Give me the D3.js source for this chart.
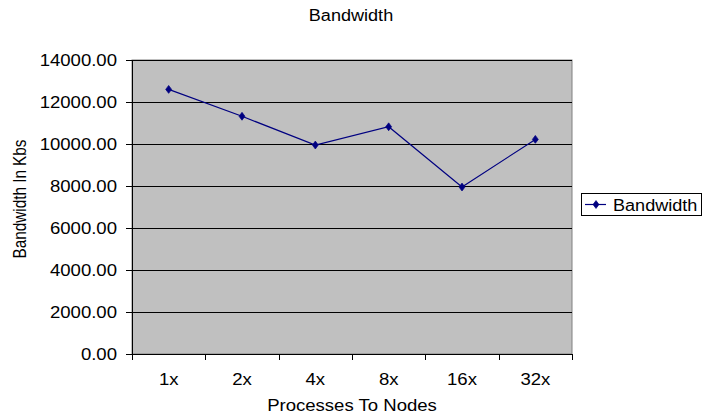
<!DOCTYPE html>
<html>
<head>
<meta charset="utf-8">
<script src="https://cdn.jsdelivr.net/npm/d3@7"></script>
<style>
  html, body { margin: 0; padding: 0; background: #fff; }
  svg { display: block; font-family: "Liberation Sans", Arial, sans-serif; }
</style>
</head>
<body>
<svg width="703" height="415"></svg>
<script>
const categories = ["1x", "2x", "4x", "8x", "16x", "32x"];
const bandwidth = [12600, 11320, 9950, 10820, 7950, 10220];
const yTicks = [0, 2000, 4000, 6000, 8000, 10000, 12000, 14000];

const svg = d3.select("svg");
const sx = 1.16; // the original chart is stretched horizontally
const fontSize = 16;

const plot = { left: 132, right: 572, top: 60, bottom: 354 };

const x = d3.scaleBand().domain(categories).range([plot.left, plot.right]).padding(0);
const y = d3.scaleLinear().domain([0, 14000]).range([plot.bottom, plot.top]);

// plot background
svg.append("rect")
    .attr("x", plot.left).attr("y", plot.top)
    .attr("width", plot.right - plot.left).attr("height", plot.bottom - plot.top)
    .attr("fill", "#c0c0c0")
    .attr("stroke", "#808080").attr("stroke-width", 1);

// gridlines
svg.append("g").selectAll("line")
    .data(yTicks.filter(d => d > 0))
    .enter().append("line")
    .attr("x1", plot.left).attr("x2", plot.right)
    .attr("y1", d => Math.round(y(d)) + 0.5).attr("y2", d => Math.round(y(d)) + 0.5)
    .attr("stroke", "#000").attr("stroke-width", 1);

// y axis
const yAxis = svg.append("g")
    .attr("transform", `translate(${plot.left},0)`)
    .call(d3.axisLeft(y).tickValues(yTicks).tickFormat(d3.format(".2f")).tickSize(6).tickSizeOuter(0));
yAxis.select(".domain").attr("stroke", "#000");
yAxis.selectAll(".tick line").attr("stroke", "#000");
yAxis.selectAll("text")
    .attr("x", -15 / sx)
    .attr("dy", "0.36em")
    .attr("transform", `scale(${sx},1)`)
    .style("font-size", fontSize + "px")
    .style("font-family", "'Liberation Sans', Arial, sans-serif")
    .attr("fill", "#000");

// x axis: ticks at category boundaries
const xAxis = svg.append("g")
    .attr("transform", `translate(0,${plot.bottom})`);
xAxis.append("line")
    .attr("x1", plot.left).attr("x2", plot.right)
    .attr("y1", 0.5).attr("y2", 0.5)
    .attr("stroke", "#000");
const bounds = categories.map(c => x(c)).concat([plot.right]);
xAxis.selectAll(".xtick")
    .data(bounds).enter().append("line")
    .attr("x1", d => Math.round(d) + 0.5).attr("x2", d => Math.round(d) + 0.5)
    .attr("y1", 0).attr("y2", 6)
    .attr("stroke", "#000");
xAxis.selectAll(".xlabel")
    .data(categories).enter().append("text")
    .attr("transform", d => `translate(${x(d) + x.bandwidth() / 2},31) scale(${sx},1)`)
    .attr("text-anchor", "middle")
    .style("font-size", fontSize + "px")
    .text(d => d);

// line + markers
const line = d3.line()
    .x((d, i) => x(categories[i]) + x.bandwidth() / 2)
    .y(d => y(d));

svg.append("path")
    .datum(bandwidth)
    .attr("fill", "none")
    .attr("stroke", "#000080")
    .attr("stroke-width", 1.2)
    .attr("d", line);

const diamond = d3.symbol().type(d3.symbolDiamond).size(18);
svg.append("g").selectAll("path")
    .data(bandwidth).enter().append("path")
    .attr("transform", (d, i) => `translate(${x(categories[i]) + x.bandwidth() / 2},${y(d)}) scale(1.3,1)`)
    .attr("d", diamond)
    .attr("fill", "#000080")
    .attr("stroke", "#000080").attr("stroke-width", 0.6);

// title
svg.append("text")
    .attr("transform", `translate(351,20.5) scale(1.13,1)`)
    .attr("text-anchor", "middle")
    .style("font-size", fontSize + "px")
    .text("Bandwidth");

// axis titles
svg.append("text")
    .attr("transform", `translate(352,411) scale(${sx},1)`)
    .attr("text-anchor", "middle")
    .style("font-size", fontSize + "px")
    .text("Processes To Nodes");

svg.append("text")
    .attr("transform", `translate(26,199) scale(1.23,1) rotate(-90)`)
    .attr("text-anchor", "middle")
    .style("font-size", "15.3px")
    .text("Bandwidth In Kbs");

// legend
const legend = svg.append("g");
legend.append("rect")
    .attr("x", 581.5).attr("y", 193.5)
    .attr("width", 120).attr("height", 22)
    .attr("fill", "#fff").attr("stroke", "#000");
legend.append("line")
    .attr("x1", 585).attr("x2", 606)
    .attr("y1", 204.5).attr("y2", 204.5)
    .attr("stroke", "#000080").attr("stroke-width", 1.2);
legend.append("path")
    .attr("transform", "translate(596,204.5) scale(1.3,1)")
    .attr("d", diamond)
    .attr("fill", "#000080")
    .attr("stroke", "#000080").attr("stroke-width", 0.6);
legend.append("text")
    .attr("transform", `translate(613,210.5) scale(1.13,1)`)
    .style("font-size", fontSize + "px")
    .text("Bandwidth");
</script>
</body>
</html>
